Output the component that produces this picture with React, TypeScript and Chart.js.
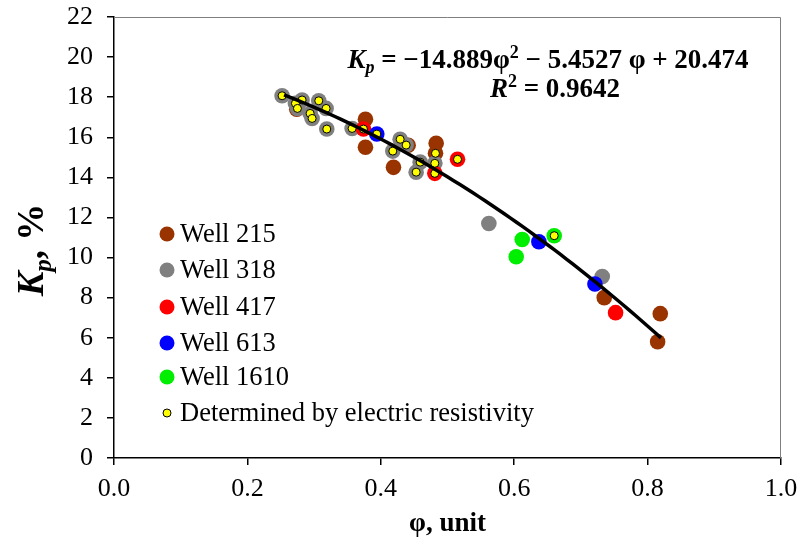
import React, { useEffect, useRef } from "react";
import { Chart, registerables } from "chart.js";

Chart.register(...registerables);

// ---- Data (φ, unit ; Kp, %) ----
const well215X = [0.274, 0.377, 0.377, 0.441, 0.419, 0.483, 0.482, 0.735, 0.819, 0.815];
const well215Y = [17.4, 16.9, 15.5, 15.6, 14.5, 15.7, 15.2, 8.0, 7.2, 5.8];

const well318X = [0.252, 0.282, 0.307, 0.272, 0.275, 0.318, 0.294, 0.297, 0.319, 0.357, 0.429, 0.438, 0.418, 0.459, 0.481, 0.453, 0.562, 0.732];
const well318Y = [18.07, 17.86, 17.82, 17.69, 17.44, 17.44, 17.19, 16.94, 16.41, 16.44, 15.9, 15.61, 15.31, 14.76, 14.7, 14.26, 11.7, 9.05];

const well417X = [0.374, 0.481, 0.515, 0.752];
const well417Y = [16.41, 14.2, 14.9, 7.25];

const well613X = [0.394, 0.637, 0.721];
const well613Y = [16.16, 10.79, 8.68];

const well1610X = [0.612, 0.603, 0.66];
const well1610Y = [10.9, 10.04, 11.09];

const resistX = [0.252, 0.282, 0.307, 0.272, 0.275, 0.318, 0.294, 0.297, 0.319, 0.357, 0.374, 0.394, 0.429, 0.438, 0.418, 0.482, 0.459, 0.481, 0.453, 0.481, 0.515, 0.66];
const resistY = [18.07, 17.86, 17.82, 17.69, 17.44, 17.44, 17.19, 16.94, 16.41, 16.44, 16.41, 16.16, 15.9, 15.61, 15.31, 15.2, 14.76, 14.7, 14.26, 14.2, 14.9, 11.09];

// Trend (polynomial fit shown on the chart)
const trendCoefA = -14.889;
const trendCoefB = -5.4527;
const trendCoefC = 20.474;
const trendRange = [0.255, 0.82];
const rSquared = "0.9642";

const xTicks = [0, 0.2, 0.4, 0.6, 0.8, 1.0];
const yTicks = [0, 2, 4, 6, 8, 10, 12, 14, 16, 18, 20, 22];

const legendLabels = ["Well 215", "Well 318", "Well 417", "Well 613", "Well 1610", "Determined by electric resistivity"];
const wellColors = ["#993300", "#808080", "#ff0000", "#0000ff", "#00ee00"];

const FONT = "'Liberation Serif', 'Times New Roman', serif";

function pts(xs: number[], ys: number[]) {
  return xs.map((x, i) => ({ x, y: ys[i] }));
}

function trendPoints() {
  const out: { x: number; y: number }[] = [];
  const n = 60;
  for (let i = 0; i <= n; i++) {
    const x = trendRange[0] + ((trendRange[1] - trendRange[0]) * i) / n;
    out.push({ x, y: trendCoefA * x * x + trendCoefB * x + trendCoefC });
  }
  return out;
}

type Piece = { t: string; font: string; dy?: number };

function drawPieces(ctx: CanvasRenderingContext2D, pieces: Piece[], cx: number, y: number) {
  let total = 0;
  for (const p of pieces) {
    ctx.font = p.font;
    total += ctx.measureText(p.t).width;
  }
  let x = cx - total / 2;
  for (const p of pieces) {
    ctx.font = p.font;
    ctx.fillText(p.t, x, y + (p.dy || 0));
    x += ctx.measureText(p.t).width;
  }
}

const overlayPlugin = {
  id: "overlay",
  afterDraw(chart: any) {
    const ctx: CanvasRenderingContext2D = chart.ctx;
    const area = chart.chartArea;
    ctx.save();
    // plot area border (top & right)
    ctx.strokeStyle = "#7f7f7f";
    ctx.lineWidth = 1;
    ctx.beginPath();
    ctx.moveTo(area.left, area.top + 0.5);
    ctx.lineTo(area.right - 0.5, area.top + 0.5);
    ctx.lineTo(area.right - 0.5, area.bottom);
    ctx.stroke();

    ctx.fillStyle = "#000";
    ctx.textBaseline = "alphabetic";
    // equation
    const fs = 27;
    const b = `bold ${fs}px ${FONT}`;
    const bi = `italic bold ${fs}px ${FONT}`;
    const biSmall = `italic bold ${Math.round(fs * 0.65)}px ${FONT}`;
    const bSmall = `bold ${Math.round(fs * 0.65)}px ${FONT}`;
    drawPieces(
      ctx,
      [
        { t: "K", font: bi },
        { t: "p", font: biSmall, dy: 5 },
        { t: " = \u221214.889\u03c6", font: b },
        { t: "2", font: bSmall, dy: -10 },
        { t: " \u2212 5.4527 \u03c6 + 20.474", font: b },
      ],
      548,
      68
    );
    drawPieces(
      ctx,
      [
        { t: "R", font: bi },
        { t: "2", font: bSmall, dy: -10 },
        { t: " = " + rSquared, font: b },
      ],
      555,
      97
    );

    // x title
    ctx.font = `bold 27px ${FONT}`;
    ctx.textAlign = "center";
    ctx.fillText("\u03c6, unit", (area.left + area.right) / 2, 531);
    ctx.textAlign = "left";

    // y title
    ctx.save();
    ctx.translate(43, 250);
    ctx.rotate(-Math.PI / 2);
    drawPieces(
      ctx,
      [
        { t: "K", font: `italic bold 37px ${FONT}` },
        { t: "p", font: `italic bold 25px ${FONT}`, dy: 8 },
        { t: ", %", font: `bold 37px ${FONT}` },
      ],
      0,
      0
    );
    ctx.restore();

    // legend
    const ly = [234, 270, 307, 343, 377, 413];
    ctx.font = `26.5px ${FONT}`;
    ctx.textBaseline = "middle";
    for (let i = 0; i < legendLabels.length; i++) {
      const cy = ly[i];
      ctx.beginPath();
      if (i < 5) {
        ctx.fillStyle = wellColors[i];
        ctx.arc(167, cy, 7.5, 0, Math.PI * 2);
        ctx.fill();
      } else {
        ctx.fillStyle = "#ffff00";
        ctx.arc(167, cy, 4, 0, Math.PI * 2);
        ctx.fill();
        ctx.strokeStyle = "#000";
        ctx.lineWidth = 1;
        ctx.stroke();
      }
      ctx.fillStyle = "#000";
      ctx.fillText(legendLabels[i], 180, cy + 1);
    }
    ctx.restore();
  },
};

export default function App() {
  const ref = useRef<HTMLCanvasElement | null>(null);
  useEffect(() => {
    document.body.style.margin = "0";
    const canvas = ref.current!;
    const wellDs = (label: string, xs: number[], ys: number[], color: string, order: number) => ({
      label,
      data: pts(xs, ys),
      backgroundColor: color,
      borderColor: color,
      borderWidth: 0,
      pointRadius: 7.8,
      pointHoverRadius: 7.8,
      order,
    });
    const chart = new Chart(canvas, {
      type: "scatter",
      data: {
        datasets: [
          {
            label: "trend",
            data: trendPoints(),
            type: "line",
            showLine: true,
            borderColor: "#000",
            borderWidth: 3.5,
            pointRadius: 0,
            fill: false,
            tension: 0,
            order: 0,
          } as any,
          {
            label: legendLabels[5],
            data: pts(resistX, resistY),
            backgroundColor: "#ffff00",
            borderColor: "#000",
            borderWidth: 1,
            pointRadius: 4,
            order: 1,
          },
          wellDs(legendLabels[4], well1610X, well1610Y, wellColors[4], 2),
          wellDs(legendLabels[3], well613X, well613Y, wellColors[3], 3),
          wellDs(legendLabels[2], well417X, well417Y, wellColors[2], 4),
          wellDs(legendLabels[1], well318X, well318Y, wellColors[1], 5),
          wellDs(legendLabels[0], well215X, well215Y, wellColors[0], 6),
        ],
      },
      options: {
        responsive: false,
        animation: false,
        layout: { padding: { top: 17, right: 18, left: 0, bottom: 0 } },
        plugins: { legend: { display: false }, tooltip: { enabled: false } },
        scales: {
          x: {
            type: "linear",
            min: 0,
            max: 1,
            afterBuildTicks: (s: any) => {
              s.ticks = xTicks.map((v) => ({ value: v }));
            },
            ticks: {
              callback: (v: any) => Number(v).toFixed(1),
              font: { family: FONT, size: 26 },
              color: "#000",
              padding: 9,
              maxRotation: 0,
            },
            grid: { display: true, drawOnChartArea: false, drawTicks: true, tickLength: 7, color: "#000", lineWidth: 1.5 },
            border: { display: true, color: "#000", width: 1.5 },
            afterFit: (s: any) => {
              s.height = 86;
              s.paddingLeft = 0;
              s.paddingRight = 0;
            },
          },
          y: {
            type: "linear",
            min: 0,
            max: 22,
            afterBuildTicks: (s: any) => {
              s.ticks = yTicks.map((v) => ({ value: v }));
            },
            ticks: {
              callback: (v: any) => String(v),
              font: { family: FONT, size: 26 },
              color: "#000",
              padding: 14,
            },
            grid: { display: true, drawOnChartArea: false, drawTicks: true, tickLength: 7, color: "#000", lineWidth: 1.5 },
            border: { display: true, color: "#000", width: 1.5 },
            afterFit: (s: any) => {
              s.width = 114;
              s.paddingTop = 0;
              s.paddingBottom = 0;
            },
          },
        },
      } as any,
      plugins: [overlayPlugin],
    });
    return () => chart.destroy();
  }, []);
  return (
    <div style={{ width: 799, height: 544 }}>
      <canvas ref={ref} width={799} height={544} style={{ width: 799, height: 544, display: "block" }} />
    </div>
  );
}
